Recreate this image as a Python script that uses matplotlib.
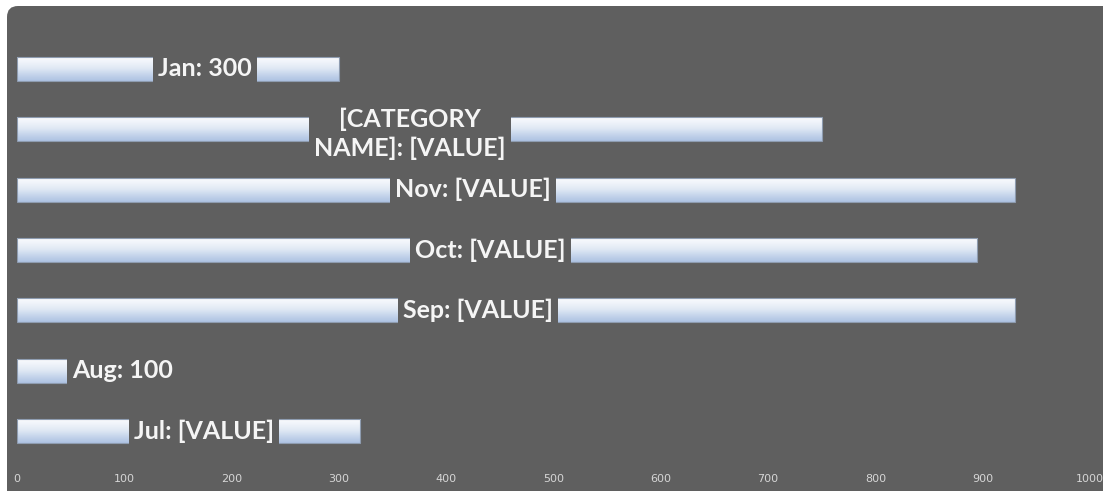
import numpy as np
import matplotlib
matplotlib.use("Agg")
import matplotlib.pyplot as plt
from matplotlib.colors import LinearSegmentedColormap
from matplotlib.patches import FancyBboxPatch
from matplotlib.transforms import IdentityTransform

# Monthly values, bottom to top
months = ["Jul", "Aug", "Sep", "Oct", "Nov", "Dec", "Jan"]
values = [320, 100, 930, 895, 930, 750, 300]
labels = ["Jul: [VALUE]", "Aug: 100", "Sep: [VALUE]", "Oct: [VALUE]",
          "Nov: [VALUE]", "[CATEGORY\nNAME]: [VALUE]", "Jan: 300"]
# Where each data label sits along the value axis
label_x = [174, 98, 430, 441, 425, 366, 175]
x_ticks = list(range(0, 1001, 100))

BG = "#5f5f5f"
W, H = 1103, 491

fig = plt.figure(figsize=(W / 100, H / 100), dpi=100, facecolor="white")

# Rounded dark chart area (pixel coordinates, origin bottom-left)
panel = FancyBboxPatch((7, -40), W + 40, H + 40 - 6,
                       boxstyle="round,pad=0,rounding_size=11",
                       transform=IdentityTransform(), fc=BG, ec="none",
                       zorder=-5)
fig.patches.append(panel)

left = 17 / W
right = 1090 / W
bottom = (H - 461.2) / H
top = (H - 38.8) / H
ax = fig.add_axes([left, bottom, right - left, top - bottom])
ax.set_facecolor("none")
ax.patch.set_alpha(0)

y = np.arange(len(months))
bar_h = 0.4
bars = ax.barh(y, values, height=bar_h, color="none",
               edgecolor="#8e9cb0", linewidth=0.8, zorder=3)

# Vertical light-blue gradient inside each bar
cmap = LinearSegmentedColormap.from_list(
    "barfill", ["#adc2e2", "#c4d4eb", "#dfe8f4", "#eff3fa", "#fbfcfe"])
grad = np.linspace(0, 1, 256).reshape(-1, 1)
for yi, v, patch in zip(y, values, bars.patches):
    im = ax.imshow(grad, cmap=cmap, origin="lower", aspect="auto",
                   extent=[0, v, yi - bar_h / 2, yi + bar_h / 2], zorder=2)
    im.set_clip_path(patch)

for yi, lx, txt in zip(y, label_x, labels):
    dy = -0.08 if "\n" in txt else 0
    ax.text(lx, yi + dy, txt, ha="center", va="center", multialignment="center",
            color="#f5f5f5", fontsize=18, fontweight="bold", family="Lato",
            linespacing=1.3, zorder=5,
            bbox=dict(boxstyle="square,pad=0.2", fc=BG, ec="none"))

ax.set_xlim(0, 1000)
ax.set_ylim(-0.5, 6.5)
ax.set_xticks(x_ticks)
ax.set_xticklabels([str(t) for t in x_ticks])
ax.set_yticks([])
ax.tick_params(axis="x", length=0, pad=9, labelsize=8, labelcolor="#d6d6d6")
for lab in ax.get_xticklabels():
    lab.set_family(["Liberation Sans Narrow", "DejaVu Sans"])
for s in ax.spines.values():
    s.set_visible(False)

fig.savefig("out.png", dpi=100, facecolor=fig.get_facecolor())
